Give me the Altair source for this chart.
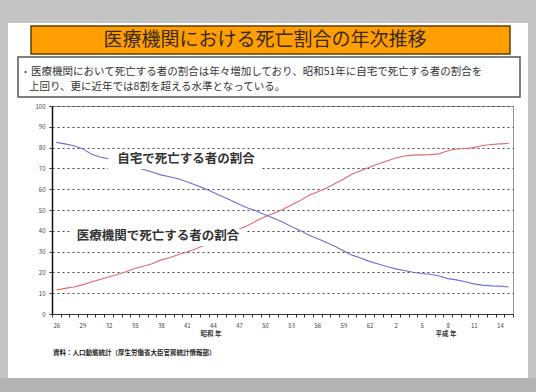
import altair as alt
import pandas as pd

FONT = "Noto Sans CJK JP"

years = list(range(1951, 2004))
medical = [11.5, 12.3, 13.0, 14.0, 15.4, 16.6, 17.8, 19.0, 20.3, 21.9,
           23.0, 24.2, 25.9, 27.0, 28.5, 29.8, 31.3, 33.0, 35.2, 37.4,
           38.9, 40.7, 42.6, 44.8, 46.7, 48.4, 50.2, 52.4, 54.4, 57.0,
           58.7, 60.5, 62.6, 64.8, 67.3, 68.9, 70.5, 72.1, 73.6, 75.0,
           76.0, 76.4, 76.5, 76.6, 77.0, 78.5, 79.3, 79.6, 80.0, 81.0,
           81.5, 81.8, 82.0]
home = [82.5, 81.8, 80.9, 79.5, 76.9, 75.5, 74.6, 73.3, 72.0, 70.7,
        69.5, 68.3, 66.9, 66.0, 65.0, 63.6, 62.0, 60.4, 58.5, 56.6,
        54.8, 52.8, 51.0, 49.5, 47.7, 46.0, 44.2, 42.1, 40.2, 38.0,
        36.3, 34.5, 32.6, 30.4, 28.3, 26.9, 25.3, 24.0, 22.8, 21.7,
        20.9, 20.1, 19.5, 19.1, 18.3, 17.0, 16.4, 15.5, 14.5, 13.9,
        13.5, 13.4, 13.0]
series_names = ["医療機関で死亡する者の割合", "自宅で死亡する者の割合"]
series_colors = ["#E06A6A", "#6E6ED8"]
y_ticks = [0, 10, 20, 30, 40, 50, 60, 70, 80, 90, 100]

title_text = "医療機関における死亡割合の年次推移"
note_line1 = "医療機関において死亡する者の割合は年々増加しており、昭和51年に自宅で死亡する者の割合を"
note_line2 = "上回り、更に近年では8割を超える水準となっている。"
source_text = "資料：人口動態統計（厚生労働省大臣官房統計情報部）"
era_labels = ["昭和 年", "平成 年"]

df = pd.DataFrame({
    "year": years * 2,
    "series": [series_names[0]] * len(years) + [series_names[1]] * len(years),
    "value": medical + home,
})
dummy = pd.DataFrame({"a": [0]})


def rect(x, x2, y, y2, **kw):
    return alt.Chart(dummy).mark_rect(**kw).encode(
        x=alt.value(x), x2=alt.value(x2), y=alt.value(y), y2=alt.value(y2))


def text(t, x, y, **kw):
    return alt.Chart(dummy).mark_text(text=t, font=FONT, **kw).encode(
        x=alt.value(x), y=alt.value(y))


label_expr = ("(datum.value - 1951) % 3 == 0 ? "
              "'' + (datum.value <= 1988 ? datum.value - 1925 : datum.value - 1988) : ''")

lines = alt.Chart(df).mark_line(strokeWidth=1.1).encode(
    x=alt.X("year:O", scale=alt.Scale(paddingInner=0, paddingOuter=0),
            axis=alt.Axis(title=None, labelExpr=label_expr, tickBand="extent",
                          labelAngle=0, labelFontSize=6, tickSize=3,
                          labelOverlap=False, labelPadding=5, grid=False,
                          domainColor="#333", tickColor="#333",
                          labelColor="#444", labelFont=FONT)),
    y=alt.Y("value:Q", scale=alt.Scale(domain=[0, 100]),
            axis=alt.Axis(title=None, values=y_ticks, grid=True,
                          gridDash=[2, 3], gridColor="#444", gridWidth=1,
                          labelFontSize=6, tickSize=3, labelPadding=4,
                          domainColor="#111", domainWidth=1.5,
                          tickColor="#333", labelColor="#444", labelFont=FONT)),
    color=alt.Color("series:N", scale=alt.Scale(domain=series_names, range=series_colors),
                    legend=None),
)

gray = "#C4C4C4"
layers = [
    rect(-52, 484, -106, -83, fill=gray),
    rect(-52, -44, -106, 286, fill=gray),
    rect(476, 484, -106, 286, fill=gray),
    rect(-52, 484, 272, 286, fill="#B4B4B4"),
    rect(-21, 458, -80, -52, fill="#FF9E00", stroke="#5A4000", strokeWidth=1.5),
    text(title_text, 213, -66, fontSize=19, color="#3A2A18", align="center", baseline="middle"),
    rect(-34, 468, -49, -9, fill="white", stroke="#555", strokeWidth=1.5),
    text("・", -31, -34, fontSize=9, color="#333", align="left", baseline="middle"),
    text(note_line1, -21, -34, fontSize=10.5, color="#333", align="left", baseline="middle"),
    text(note_line2, -23, -19, fontSize=10.5, color="#333", align="left", baseline="middle"),
    lines,
    rect(56, 210, 45, 63, fill="white"),
    rect(18, 194, 123, 140, fill="white"),
    text(series_names[1], 134, 53, fontSize=12.5, fontWeight="bold", color="#333",
         align="center", baseline="middle"),
    text(series_names[0], 106, 130, fontSize=12.5, fontWeight="bold", color="#333",
         align="center", baseline="middle"),
    text(era_labels[0], 159, 228, fontSize=6.5, fontWeight="bold", color="#333",
         align="center", baseline="middle"),
    text(era_labels[1], 394, 228, fontSize=6.5, fontWeight="bold", color="#333",
         align="center", baseline="middle"),
    text(source_text, 1, 247, fontSize=6.5, fontWeight="bold", color="#222",
         align="left", baseline="middle"),
]

chart = alt.layer(*layers).properties(
    width=461, height=208,
    padding={"left": 52, "top": 106, "right": 23, "bottom": 78},
    autosize="none", background="white",
).configure_view(stroke="#999")

chart.save("out.html", embed_options={"renderer": "svg", "actions": False})
